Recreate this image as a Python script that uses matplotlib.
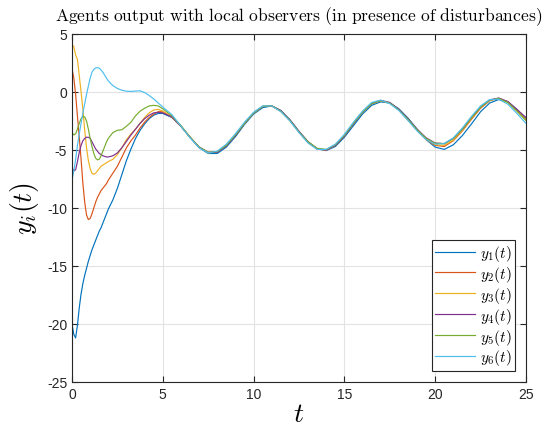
import matplotlib
matplotlib.use("Agg")
import matplotlib.pyplot as plt
import numpy as np

plt.rcParams['mathtext.fontset'] = 'cm'
plt.rcParams['axes.unicode_minus'] = False
plt.rcParams['font.family'] = ['Liberation Sans', 'DejaVu Sans']

# --- sample times (fine during the transient, coarser afterwards) ---
t = np.r_[np.arange(0, 2.01, 0.1), np.arange(2.25, 5.01, 0.25), np.arange(5.5, 25.01, 0.5)]

# --- agent outputs ---
y1 = [-20.0, -20.9, -21.2, -20.1, -18.6, -17.4, -16.5, -15.8, -15.2, -14.6, -14.1,
      -13.6, -13.2, -12.8, -12.4, -12.0, -11.7, -11.3, -10.9, -10.5, -10.1,
      -9.3, -8.3, -7.1, -5.9, -4.9, -4.0, -3.3, -2.75, -2.3, -2.0, -1.85, -1.85,
      -2.2, -2.95, -3.9, -4.8, -5.3, -5.3, -4.75, -3.85, -2.8, -1.9, -1.35, -1.2,
      -1.6, -2.4, -3.4, -4.3, -4.9, -5.05, -4.7, -3.9, -2.9, -1.9, -1.15, -0.85,
      -0.95, -1.45, -2.25, -3.2, -4.1, -4.75, -4.95, -4.55, -3.75, -2.75, -1.7,
      -0.95, -0.65, -0.85, -1.5, -2.3]
y2 = [2.0, 1.2, -0.2, -2.1, -3.9, -5.8, -7.9, -9.5, -10.6, -11.0, -10.9,
      -10.5, -10.0, -9.5, -9.1, -8.8, -8.5, -8.3, -8.1, -7.9, -7.6,
      -7.0, -6.4, -5.6, -4.8, -4.2, -3.7, -3.1, -2.6, -2.2, -1.9, -1.7, -1.7,
      -2.15, -2.95, -3.9, -4.75, -5.2, -5.15, -4.6, -3.7, -2.7, -1.8, -1.25, -1.2,
      -1.65, -2.45, -3.45, -4.35, -4.9, -5.0, -4.6, -3.75, -2.7, -1.7, -1.0, -0.75,
      -0.95, -1.55, -2.4, -3.3, -4.1, -4.6, -4.7, -4.2, -3.35, -2.35, -1.4,
      -0.75, -0.55, -0.85, -1.6, -2.4]
y3 = [4.1, 3.9, 3.2, 2.8, 1.4, 0.0, -1.5, -3.3, -4.8, -5.9, -6.6,
      -7.0, -7.1, -7.0, -6.8, -6.6, -6.4, -6.3, -6.2, -6.1, -6.0,
      -5.8, -5.4, -4.8, -4.1, -3.6, -3.2, -2.7, -2.2, -1.8, -1.55, -1.5, -1.65,
      -2.15, -2.95, -3.9, -4.75, -5.25, -5.15, -4.6, -3.7, -2.7, -1.8, -1.25, -1.2,
      -1.65, -2.45, -3.45, -4.3, -4.9, -5.0, -4.6, -3.75, -2.7, -1.7, -1.0, -0.75,
      -0.95, -1.55, -2.4, -3.3, -4.05, -4.55, -4.6, -4.15, -3.3, -2.3, -1.35,
      -0.72, -0.55, -0.88, -1.6, -2.4]
y4 = [-6.5, -6.8, -6.7, -6.0, -5.2, -4.6, -4.2, -4.0, -3.9, -3.9, -4.0,
      -4.3, -4.6, -4.9, -5.1, -5.3, -5.4, -5.5, -5.55, -5.6, -5.6,
      -5.5, -5.25, -4.8, -4.25, -3.7, -3.2, -2.7, -2.3, -2.0, -1.8, -1.75, -1.8,
      -2.15, -2.95, -3.9, -4.75, -5.2, -5.2, -4.65, -3.75, -2.7, -1.8, -1.25, -1.2,
      -1.6, -2.4, -3.4, -4.3, -4.9, -5.0, -4.6, -3.8, -2.75, -1.75, -1.0, -0.72,
      -0.9, -1.5, -2.3, -3.2, -3.95, -4.4, -4.45, -4.0, -3.2, -2.2, -1.3,
      -0.68, -0.52, -0.82, -1.5, -2.2]
y5 = [-3.5, -3.7, -3.6, -3.2, -2.7, -2.3, -2.1, -2.15, -2.5, -3.2, -4.0,
      -4.7, -5.3, -5.7, -5.85, -5.8, -5.5, -5.1, -4.7, -4.3, -4.0,
      -3.5, -3.3, -3.25, -2.95, -2.6, -2.05, -1.65, -1.4, -1.2, -1.15, -1.2, -1.45,
      -2.05, -2.9, -3.9, -4.75, -5.2, -5.15, -4.6, -3.7, -2.7, -1.8, -1.25, -1.2,
      -1.65, -2.45, -3.45, -4.3, -4.85, -4.95, -4.55, -3.75, -2.7, -1.75, -1.0, -0.75,
      -0.95, -1.55, -2.35, -3.25, -4.0, -4.42, -4.45, -4.0, -3.2, -2.2, -1.3,
      -0.7, -0.55, -0.9, -1.65, -2.45]
y6 = [-7.6, -6.8, -5.8, -4.6, -3.6, -2.7, -1.8, -1.0, -0.2, 0.5, 1.2,
      1.7, 1.95, 2.07, 2.1, 2.05, 1.9, 1.7, 1.45, 1.2, 0.95,
      0.55, 0.3, 0.15, 0.07, 0.05, 0.08, 0.1, -0.05, -0.3, -0.6, -0.95, -1.3,
      -1.95, -2.95, -3.95, -4.8, -5.25, -5.1, -4.5, -3.6, -2.6, -1.75, -1.2, -1.2,
      -1.7, -2.5, -3.5, -4.4, -4.95, -4.95, -4.5, -3.65, -2.6, -1.65, -0.9, -0.7,
      -1.0, -1.6, -2.45, -3.35, -4.1, -4.5, -4.45, -3.95, -3.1, -2.1, -1.2,
      -0.65, -0.62, -1.05, -1.85, -2.7]

series = [y1, y2, y3, y4, y5, y6]
labels = [r'$y_{%d}(t)$' % (i + 1) for i in range(6)]
colors = ['#0072BD', '#D95319', '#EDB120', '#7E2F8E', '#77AC30', '#4DBEEE']

fig = plt.figure(figsize=(5.56, 4.31), dpi=100)
ax = fig.add_axes([0.1295, 0.1114, 0.8165, 0.8074])

for y, c, lab in zip(series, colors, labels):
    ax.plot(t, y, color=c, lw=0.85, label=lab)

ax.set_xlim(0, 25)
ax.set_ylim(-25, 5)
ax.set_xticks(np.arange(0, 26, 5))
ax.set_yticks(np.arange(-25, 6, 5))
ax.grid(True, color='#e3e3e3', lw=0.8)
ax.set_axisbelow(True)
ax.tick_params(direction='in', top=True, right=True, labelsize=10,
               colors='#262626', length=4, width=0.8)
for s in ax.spines.values():
    s.set_color('#262626')
    s.set_linewidth(0.8)

ax.set_title(r'$\mathrm{Agents\ output\ with\ local\ observers\ (in\ presence\ of\ disturbances)}$',
             fontsize=12.6, pad=10)
ax.set_xlabel(r'$t$', fontsize=20, labelpad=0)
ax.set_ylabel(r'$y_i(t)$', fontsize=20, labelpad=4)

leg = ax.legend(loc='lower right', fontsize=11, fancybox=False, framealpha=1,
                edgecolor='#262626', handlelength=2.6, labelspacing=0.06,
                borderpad=0.2, handletextpad=0.3, borderaxespad=0.75)
leg.get_frame().set_linewidth(0.8)

fig.savefig('out.png', dpi=100)
